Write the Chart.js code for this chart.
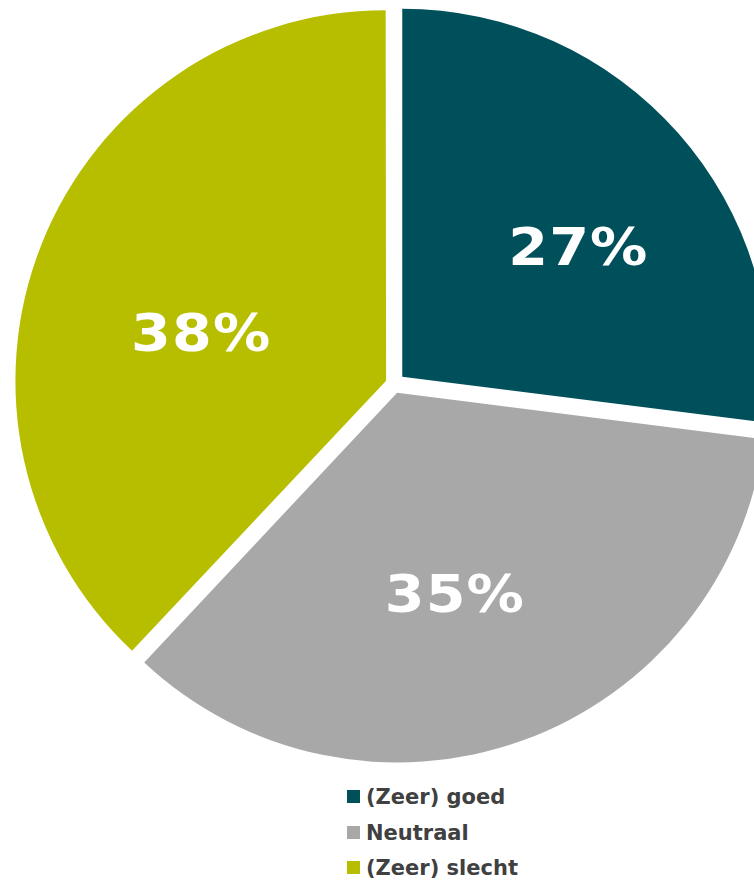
<!DOCTYPE html>
<html>
<head>
<meta charset="utf-8">
<script src="https://cdn.jsdelivr.net/npm/chart.js@4.4.1/dist/chart.umd.min.js"></script>
<style>
    html, body { margin: 0; padding: 0; background: #fff; overflow: hidden; }
    body { width: 754px; height: 880px; position: relative; }
    #pie-chart { position: absolute; left: 0; top: 0; }
    #legend { position: absolute; left: 347px; top: 785px; margin: 0; padding: 0; list-style: none;
        font-family: "DejaVu Sans", Verdana, sans-serif; font-weight: bold; font-size: 21px; color: #404040; }
    #legend li { height: 35.5px; line-height: 24px; white-space: nowrap; }
    #legend span { display: inline-block; width: 13px; height: 13px; margin-right: 6px; vertical-align: 1px; }
</style>
</head>
<body>
<canvas id="pie-chart" width="788" height="768"></canvas>
<ul id="legend"></ul>
<script>
/* global Chart */
'use strict';

// Data
const categories = ['(Zeer) goed', 'Neutraal', '(Zeer) slecht'];
const shares = [27, 35, 38];
const sliceColors = ['#00505b', '#a8a8a8', '#b7be00'];

// Explode offsets (Chart.js divides by 4 and scales by slice size, so ~11px each)
const sliceOffsets = [44, 37, 34];

// Label placement per slice: angle shift (deg) from the bisector, distance as part of radius
const labelAngleShift = [5.6, 4, -8];
const labelDistance = [0.59, 0.57, 0.51];

// Same shift the arc element applies when it draws an offset slice
function drawnOffset(offset, circumference) {
    const fix = 1 - Math.sin(Math.min(Math.PI, circumference));
    return (offset / 4) * (1 + fix);
}

const sliceLabels = {
    id: 'sliceLabels',
    afterDatasetsDraw: function(chart) {
        const ctx = chart.ctx;
        const meta = chart.getDatasetMeta(0);
        meta.data.forEach((arc, i) => {
            const p = arc.getProps(['x', 'y', 'startAngle', 'endAngle', 'outerRadius', 'circumference'], true);
            const mid = (p.startAngle + p.endAngle) / 2;
            const shift = drawnOffset(arc.options.offset, p.circumference);
            const ang = mid + labelAngleShift[i] * Math.PI / 180;
            const r = p.outerRadius * labelDistance[i];
            const lx = p.x + Math.cos(mid) * shift + Math.cos(ang) * r;
            const ly = p.y + Math.sin(mid) * shift + Math.sin(ang) * r;
            ctx.save();
            ctx.translate(lx, ly + 2);
            ctx.scale(1.1, 1);   // widen the glyphs a bit, Verdana-like
            ctx.fillStyle = '#ffffff';
            ctx.font = 'bold 52px "DejaVu Sans", Verdana, sans-serif';
            ctx.letterSpacing = '1px';
            ctx.textAlign = 'center';
            ctx.textBaseline = 'middle';
            ctx.fillText(shares[i] + '%', 0, 0);
            ctx.restore();
        });
    }
};

const pieCtx = document.getElementById('pie-chart').getContext('2d');
const pieChart = new Chart(pieCtx, {
    type: 'pie',
    data: {
        labels: categories,
        datasets: [{
            data: shares,
            backgroundColor: sliceColors,
            borderWidth: 0,
            offset: sliceOffsets
        }]
    },
    options: {
        responsive: false,
        animation: false,
        radius: 368,
        layout: { padding: 0 },
        plugins: {
            legend: { display: false },
            tooltip: { enabled: false }
        }
    },
    plugins: [sliceLabels]
});

// Legend built from the same arrays
const legendList = document.getElementById('legend');
pieChart.data.labels.forEach((label, i) => {
    const li = document.createElement('li');
    const box = document.createElement('span');
    box.style.background = sliceColors[i];
    li.appendChild(box);
    li.appendChild(document.createTextNode(label));
    legendList.appendChild(li);
});
</script>
</body>
</html>
